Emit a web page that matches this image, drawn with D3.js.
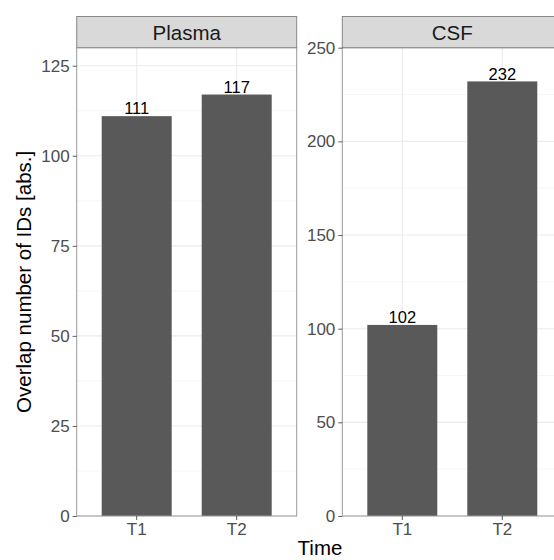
<!DOCTYPE html>
<html>
<head>
<meta charset="utf-8">
<script src="https://cdn.jsdelivr.net/npm/d3@7"></script>
<style>
  body { margin: 0; background: #fff; }
  text { font-family: "Liberation Sans", Arial, sans-serif; }
</style>
</head>
<body>
<div id="chart"></div>
<script>
/* Data */
const panelNames = ["Plasma", "CSF"];
const times = ["T1", "T2"];
const plasmaValues = [111, 117];
const csfValues = [102, 232];
const plasmaTicks = [0, 25, 50, 75, 100, 125];
const csfTicks = [0, 50, 100, 150, 200, 250];
const plasmaMax = 130;
const csfMax = 250;

/* Size */
const width = 554, height = 560;
const panelTop = 47.7, panelBottom = 516, stripTop = 16.5;
const panelW = 220;
const panelLefts = [76.7, 342.3];

const svg = d3.select("#chart").append("svg")
    .attr("width", width)
    .attr("height", height);

const panels = [
    { name: panelNames[0], values: plasmaValues, ticks: plasmaTicks, max: plasmaMax },
    { name: panelNames[1], values: csfValues, ticks: csfTicks, max: csfMax }
];

panels.forEach(function (p, i) {
    const x0 = panelLefts[i];

    const x = d3.scaleBand()
        .domain(times)
        .range([x0, x0 + panelW])
        .paddingInner(0.3)
        .paddingOuter(0.25);

    const y = d3.scaleLinear()
        .domain([0, p.max])
        .range([panelBottom, panelTop]);

    const g = svg.append("g");

    // minor grid (midpoints between major ticks)
    const minor = [];
    const step = p.ticks[1] - p.ticks[0];
    for (let k = 0; k < p.ticks.length; k++) {
        const m = p.ticks[k] + step / 2;
        if (m < p.max) minor.push(m);
    }
    g.selectAll("line.minor")
        .data(minor)
        .enter().append("line")
        .attr("x1", x0).attr("x2", x0 + panelW)
        .attr("y1", d => y(d)).attr("y2", d => y(d))
        .attr("stroke", "#F4F4F4").attr("stroke-width", 0.8);

    // major grid
    g.selectAll("line.majorY")
        .data(p.ticks)
        .enter().append("line")
        .attr("x1", x0).attr("x2", x0 + panelW)
        .attr("y1", d => y(d)).attr("y2", d => y(d))
        .attr("stroke", "#EBEBEB").attr("stroke-width", 1.1);

    g.selectAll("line.majorX")
        .data(times)
        .enter().append("line")
        .attr("x1", d => x(d) + x.bandwidth() / 2).attr("x2", d => x(d) + x.bandwidth() / 2)
        .attr("y1", panelTop).attr("y2", panelBottom)
        .attr("stroke", "#EBEBEB").attr("stroke-width", 1.1);

    // bars
    g.selectAll("rect.bar")
        .data(p.values)
        .enter().append("rect")
        .attr("x", (d, j) => x(times[j]))
        .attr("width", x.bandwidth())
        .attr("y", d => y(d))
        .attr("height", d => panelBottom - y(d))
        .attr("fill", "#595959");

    // bar labels
    g.selectAll("text.lab")
        .data(p.values)
        .enter().append("text")
        .attr("x", (d, j) => x(times[j]) + x.bandwidth() / 2)
        .attr("y", d => y(d) - 1.8)
        .attr("text-anchor", "middle")
        .style("font-size", "16.5px")
        .attr("fill", "#000")
        .text(d => d);

    // panel border
    g.append("rect")
        .attr("x", x0).attr("y", panelTop)
        .attr("width", panelW).attr("height", panelBottom - panelTop)
        .attr("fill", "none").attr("stroke", "#999").attr("stroke-width", 1);

    // strip
    g.append("rect")
        .attr("x", x0).attr("y", stripTop)
        .attr("width", panelW).attr("height", panelTop - stripTop)
        .attr("fill", "#D9D9D9").attr("stroke", "#888").attr("stroke-width", 1);
    g.append("text")
        .attr("x", x0 + panelW / 2).attr("y", 40)
        .attr("text-anchor", "middle")
        .style("font-size", "20.5px")
        .attr("fill", "#1A1A1A")
        .text(p.name);

    // y axis
    const yAxis = d3.axisLeft(y).tickValues(p.ticks).tickSize(4).tickPadding(3);
    const ya = svg.append("g")
        .attr("transform", "translate(" + x0 + ",0)")
        .call(yAxis);
    ya.select(".domain").remove();
    ya.selectAll(".tick line").attr("stroke", "#333").attr("stroke-width", 0.8);
    ya.selectAll(".tick text")
        .style("font-size", "17px")
        .style("font-family", "'Liberation Sans', Arial, sans-serif")
        .attr("fill", "#4D4D4D");

    // x axis
    const xAxis = d3.axisBottom(x).tickSize(4).tickPadding(3);
    const xa = svg.append("g")
        .attr("transform", "translate(0," + panelBottom + ")")
        .call(xAxis);
    xa.select(".domain").remove();
    xa.selectAll(".tick line").attr("stroke", "#333").attr("stroke-width", 0.8);
    xa.selectAll(".tick text")
        .style("font-size", "17px")
        .style("font-family", "'Liberation Sans', Arial, sans-serif")
        .attr("fill", "#4D4D4D");
});

/* Axis titles */
svg.append("text")
    .attr("transform", "translate(31," + ((panelTop + panelBottom) / 2) + ") rotate(-90)")
    .attr("text-anchor", "middle")
    .style("font-size", "20.5px")
    .attr("fill", "#000")
    .text("Overlap number of IDs [abs.]");

svg.append("text")
    .attr("x", 320).attr("y", 555)
    .attr("text-anchor", "middle")
    .style("font-size", "20.5px")
    .attr("fill", "#000")
    .text("Time");
</script>
</body>
</html>
